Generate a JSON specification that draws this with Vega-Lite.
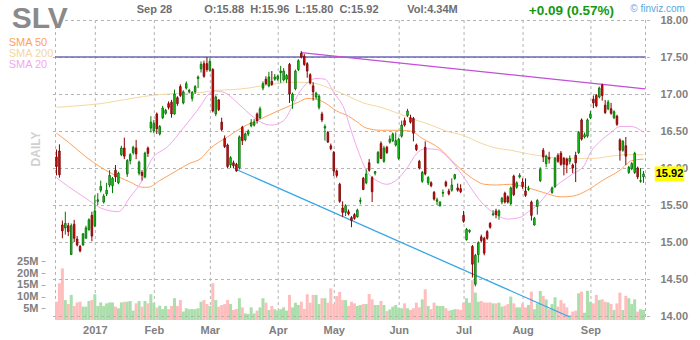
{
"$schema": "https://vega.github.io/schema/vega-lite/v6.json",
"width": 600, "height": 300,
"autosize": {"type": "none"},
"padding": {"left": 50, "top": 20, "right": 50, "bottom": 20},
"background": "white",
"config": {"view": {"stroke": null}, "font": "Liberation Sans",
"axis": {"labelFontSize": 11, "labelFontWeight": "bold", "labelColor": "#808080", "domain": false}},
"datasets": {
"cd": [
{"i":0,"o":16.15,"h":16.25,"l":15.9,"c":16.02,"v":7.8},
{"i":1,"o":16.23,"h":16.32,"l":15.87,"c":15.91,"v":15.7},
{"i":2,"o":15.23,"h":15.29,"l":15.05,"c":15.15,"v":22},
{"i":3,"o":15.19,"h":15.41,"l":15.1,"c":15.25,"v":8.5},
{"i":4,"o":15.22,"h":15.26,"l":15.08,"c":15.14,"v":6.8},
{"i":5,"o":14.83,"h":15.25,"l":14.83,"c":15.22,"v":10.7},
{"i":6,"o":15.24,"h":15.3,"l":15.0,"c":15.05,"v":6.0},
{"i":7,"o":15.04,"h":15.08,"l":14.94,"c":14.96,"v":7.5},
{"i":8,"o":14.94,"h":14.96,"l":14.86,"c":14.88,"v":7.8},
{"i":9,"o":14.96,"h":15.12,"l":14.95,"c":15.11,"v":5.7},
{"i":10,"o":15.05,"h":15.22,"l":15.05,"c":15.19,"v":5.7},
{"i":11,"o":15.17,"h":15.32,"l":15.15,"c":15.3,"v":8.1},
{"i":12,"o":15.36,"h":15.41,"l":15.01,"c":15.08,"v":8.5},
{"i":13,"o":15.22,"h":15.63,"l":15.2,"c":15.42,"v":11},
{"i":14,"o":15.55,"h":15.66,"l":15.5,"c":15.57,"v":6.0},
{"i":15,"o":15.7,"h":15.83,"l":15.67,"c":15.75,"v":7.5},
{"i":16,"o":15.54,"h":15.65,"l":15.52,"c":15.62,"v":6.0},
{"i":17,"o":15.65,"h":15.8,"l":15.62,"c":15.7,"v":7.1},
{"i":18,"o":15.77,"h":15.97,"l":15.74,"c":15.9,"v":7.5},
{"i":19,"o":15.76,"h":15.88,"l":15.66,"c":15.86,"v":7.5},
{"i":20,"o":15.97,"h":16.04,"l":15.81,"c":15.88,"v":5.7},
{"i":21,"o":15.8,"h":15.95,"l":15.78,"c":15.93,"v":5.0},
{"i":22,"o":16.18,"h":16.3,"l":16.16,"c":16.27,"v":7.5},
{"i":23,"o":16.27,"h":16.41,"l":16.12,"c":16.16,"v":7.8},
{"i":24,"o":15.92,"h":16.12,"l":15.88,"c":16.1,"v":7.8},
{"i":25,"o":16.1,"h":16.2,"l":16.05,"c":16.18,"v":8.1},
{"i":26,"o":16.21,"h":16.3,"l":16.18,"c":16.28,"v":4.0},
{"i":27,"o":16.27,"h":16.38,"l":16.12,"c":16.19,"v":7.1},
{"i":28,"o":15.93,"h":16.1,"l":15.9,"c":16.08,"v":8.1},
{"i":29,"o":15.94,"h":15.97,"l":15.83,"c":15.9,"v":5.7},
{"i":30,"o":15.88,"h":16.22,"l":15.86,"c":16.2,"v":8.1},
{"i":31,"o":16.27,"h":16.29,"l":16.15,"c":16.2,"v":7.1},
{"i":32,"o":16.54,"h":16.7,"l":16.48,"c":16.62,"v":11},
{"i":33,"o":16.5,"h":16.65,"l":16.47,"c":16.6,"v":7.3},
{"i":34,"o":16.73,"h":16.75,"l":16.46,"c":16.53,"v":5.3},
{"i":35,"o":16.46,"h":16.58,"l":16.44,"c":16.56,"v":6.1},
{"i":36,"o":16.68,"h":16.84,"l":16.66,"c":16.81,"v":4.6},
{"i":37,"o":16.74,"h":16.8,"l":16.72,"c":16.78,"v":6.0},
{"i":38,"o":16.87,"h":16.9,"l":16.79,"c":16.82,"v":4.6},
{"i":39,"o":16.89,"h":16.92,"l":16.68,"c":16.73,"v":6.0},
{"i":40,"o":16.73,"h":17.06,"l":16.72,"c":17.0,"v":9.3},
{"i":41,"o":16.95,"h":16.97,"l":16.84,"c":16.87,"v":6.0},
{"i":42,"o":17.1,"h":17.13,"l":16.96,"c":16.98,"v":8.5},
{"i":43,"o":16.88,"h":17.05,"l":16.86,"c":17.03,"v":3.6},
{"i":44,"o":17.08,"h":17.17,"l":17.06,"c":17.14,"v":5.0},
{"i":45,"o":17.03,"h":17.07,"l":17.01,"c":17.05,"v":4.6},
{"i":46,"o":16.94,"h":17.04,"l":16.9,"c":17.02,"v":4.7},
{"i":47,"o":17.03,"h":17.12,"l":17.0,"c":17.1,"v":4.6},
{"i":48,"o":17.21,"h":17.25,"l":17.08,"c":17.23,"v":5.0},
{"i":49,"o":17.34,"h":17.44,"l":17.29,"c":17.4,"v":7.8},
{"i":50,"o":17.41,"h":17.45,"l":17.22,"c":17.24,"v":8.5},
{"i":51,"o":17.41,"h":17.5,"l":17.3,"c":17.33,"v":6.8},
{"i":52,"o":17.32,"h":17.48,"l":17.3,"c":17.44,"v":6.0},
{"i":53,"o":17.33,"h":17.35,"l":16.75,"c":16.77,"v":15.7},
{"i":54,"o":16.73,"h":16.98,"l":16.7,"c":16.96,"v":8.5},
{"i":55,"o":16.92,"h":16.93,"l":16.77,"c":16.79,"v":5.7},
{"i":56,"o":16.62,"h":16.68,"l":16.5,"c":16.52,"v":6.4},
{"i":57,"o":16.4,"h":16.44,"l":16.27,"c":16.29,"v":6.8},
{"i":58,"o":16.31,"h":16.33,"l":16.0,"c":16.02,"v":8.5},
{"i":59,"o":16.04,"h":16.16,"l":16.0,"c":16.14,"v":6.8},
{"i":60,"o":16.07,"h":16.1,"l":16.0,"c":16.03,"v":4.3},
{"i":61,"o":16.05,"h":16.07,"l":15.95,"c":15.96,"v":4.7},
{"i":62,"o":16.0,"h":16.44,"l":15.98,"c":16.42,"v":9.3},
{"i":63,"o":16.55,"h":16.57,"l":16.31,"c":16.37,"v":5.4},
{"i":64,"o":16.38,"h":16.48,"l":16.36,"c":16.46,"v":2.8},
{"i":65,"o":16.46,"h":16.52,"l":16.43,"c":16.5,"v":2.6},
{"i":66,"o":16.57,"h":16.66,"l":16.55,"c":16.61,"v":5.4},
{"i":67,"o":16.58,"h":16.66,"l":16.56,"c":16.62,"v":2.8},
{"i":68,"o":16.73,"h":16.75,"l":16.6,"c":16.64,"v":4.0},
{"i":69,"o":16.68,"h":16.83,"l":16.66,"c":16.8,"v":5.4},
{"i":70,"o":17.08,"h":17.17,"l":17.05,"c":17.14,"v":9.3},
{"i":71,"o":17.2,"h":17.24,"l":17.12,"c":17.14,"v":7.4},
{"i":72,"o":17.11,"h":17.3,"l":17.09,"c":17.23,"v":4.3},
{"i":73,"o":17.17,"h":17.31,"l":17.11,"c":17.13,"v":6.0},
{"i":74,"o":17.2,"h":17.27,"l":17.18,"c":17.23,"v":4.6},
{"i":75,"o":17.2,"h":17.26,"l":17.18,"c":17.24,"v":4.0},
{"i":76,"o":17.29,"h":17.38,"l":17.15,"c":17.31,"v":4.6},
{"i":77,"o":17.19,"h":17.35,"l":17.17,"c":17.31,"v":5.4},
{"i":78,"o":17.2,"h":17.27,"l":17.15,"c":17.25,"v":4.0},
{"i":79,"o":17.4,"h":17.42,"l":16.88,"c":17.0,"v":10.7},
{"i":80,"o":16.91,"h":17.02,"l":16.8,"c":17.0,"v":5.4},
{"i":81,"o":17.07,"h":17.33,"l":17.05,"c":17.31,"v":7.4},
{"i":82,"o":17.33,"h":17.47,"l":17.31,"c":17.45,"v":6.4},
{"i":83,"o":17.55,"h":17.58,"l":17.48,"c":17.5,"v":7.8},
{"i":84,"o":17.51,"h":17.54,"l":17.38,"c":17.4,"v":4.7},
{"i":85,"o":17.41,"h":17.43,"l":17.22,"c":17.31,"v":11},
{"i":86,"o":17.26,"h":17.28,"l":17.13,"c":17.15,"v":7.4},
{"i":87,"o":17.11,"h":17.16,"l":16.91,"c":17.03,"v":10.7},
{"i":88,"o":16.96,"h":17.03,"l":16.93,"c":17.01,"v":10.7},
{"i":89,"o":16.82,"h":16.99,"l":16.79,"c":16.97,"v":6.8},
{"i":90,"o":16.73,"h":16.76,"l":16.62,"c":16.65,"v":9.3},
{"i":91,"o":16.54,"h":16.59,"l":16.37,"c":16.56,"v":9.3},
{"i":92,"o":16.48,"h":16.5,"l":16.34,"c":16.35,"v":7.4},
{"i":93,"o":16.3,"h":16.33,"l":16.24,"c":16.26,"v":13.5},
{"i":94,"o":16.21,"h":16.23,"l":15.89,"c":15.96,"v":6.8},
{"i":95,"o":15.96,"h":15.98,"l":15.87,"c":15.9,"v":10.2},
{"i":96,"o":15.78,"h":15.8,"l":15.53,"c":15.55,"v":12},
{"i":97,"o":15.46,"h":15.55,"l":15.34,"c":15.4,"v":8.5},
{"i":98,"o":15.4,"h":15.51,"l":15.35,"c":15.49,"v":8.5},
{"i":99,"o":15.41,"h":15.44,"l":15.36,"c":15.38,"v":6.0},
{"i":100,"o":15.33,"h":15.35,"l":15.2,"c":15.29,"v":7.8},
{"i":101,"o":15.37,"h":15.39,"l":15.3,"c":15.32,"v":7.1},
{"i":102,"o":15.34,"h":15.45,"l":15.33,"c":15.43,"v":6.0},
{"i":103,"o":15.55,"h":15.6,"l":15.51,"c":15.56,"v":6.4},
{"i":104,"o":15.86,"h":15.88,"l":15.7,"c":15.71,"v":6.8},
{"i":105,"o":15.8,"h":15.98,"l":15.78,"c":15.92,"v":6.8},
{"i":106,"o":16.07,"h":16.12,"l":15.95,"c":15.97,"v":11.1},
{"i":107,"o":15.87,"h":15.89,"l":15.54,"c":15.68,"v":8.8},
{"i":108,"o":15.93,"h":15.96,"l":15.9,"c":15.95,"v":6.4},
{"i":109,"o":16.07,"h":16.23,"l":16.06,"c":16.21,"v":6.4},
{"i":110,"o":16.33,"h":16.36,"l":16.12,"c":16.13,"v":8.1},
{"i":111,"o":16.09,"h":16.3,"l":16.07,"c":16.27,"v":6.4},
{"i":112,"o":16.28,"h":16.3,"l":16.19,"c":16.21,"v":3.8},
{"i":113,"o":16.35,"h":16.44,"l":16.33,"c":16.39,"v":4.5},
{"i":114,"o":16.37,"h":16.48,"l":16.35,"c":16.46,"v":5.7},
{"i":115,"o":16.31,"h":16.48,"l":16.29,"c":16.37,"v":6.4},
{"i":116,"o":16.13,"h":16.41,"l":16.11,"c":16.39,"v":5.3},
{"i":117,"o":16.43,"h":16.64,"l":16.41,"c":16.58,"v":5.0},
{"i":118,"o":16.64,"h":16.68,"l":16.56,"c":16.58,"v":7.1},
{"i":119,"o":16.71,"h":16.8,"l":16.69,"c":16.77,"v":5.0},
{"i":120,"o":16.68,"h":16.72,"l":16.6,"c":16.62,"v":4.3},
{"i":121,"o":16.67,"h":16.69,"l":16.36,"c":16.47,"v":5.0},
{"i":122,"o":16.31,"h":16.33,"l":16.23,"c":16.25,"v":7.4},
{"i":123,"o":16.09,"h":16.11,"l":15.98,"c":16.0,"v":5.4},
{"i":124,"o":15.82,"h":15.96,"l":15.8,"c":15.94,"v":8.8},
{"i":125,"o":16.28,"h":16.36,"l":15.9,"c":15.92,"v":13.1},
{"i":126,"o":15.8,"h":15.89,"l":15.77,"c":15.87,"v":6.0},
{"i":127,"o":15.8,"h":15.82,"l":15.74,"c":15.76,"v":4.6},
{"i":128,"o":15.67,"h":15.69,"l":15.56,"c":15.58,"v":7.4},
{"i":129,"o":15.55,"h":15.6,"l":15.5,"c":15.57,"v":6.1},
{"i":130,"o":15.49,"h":15.55,"l":15.48,"c":15.54,"v":6.0},
{"i":131,"o":15.66,"h":15.71,"l":15.61,"c":15.67,"v":6.0},
{"i":132,"o":15.81,"h":15.83,"l":15.74,"c":15.76,"v":5.0},
{"i":133,"o":15.69,"h":15.72,"l":15.63,"c":15.65,"v":4.0},
{"i":134,"o":15.7,"h":15.86,"l":15.68,"c":15.77,"v":4.3},
{"i":135,"o":15.86,"h":15.92,"l":15.84,"c":15.91,"v":4.6},
{"i":136,"o":15.73,"h":15.79,"l":15.68,"c":15.7,"v":4.6},
{"i":137,"o":15.72,"h":15.78,"l":15.66,"c":15.68,"v":4.3},
{"i":138,"o":15.36,"h":15.42,"l":15.26,"c":15.28,"v":7.4},
{"i":139,"o":15.03,"h":15.19,"l":15.02,"c":15.17,"v":9.3},
{"i":140,"o":15.14,"h":15.17,"l":15.12,"c":15.16,"v":7.4},
{"i":141,"o":14.94,"h":14.96,"l":14.52,"c":14.7,"v":17},
{"i":142,"o":14.43,"h":14.84,"l":14.4,"c":14.82,"v":11.7},
{"i":143,"o":14.83,"h":15.01,"l":14.72,"c":14.99,"v":7.8},
{"i":144,"o":15.07,"h":15.1,"l":15.0,"c":15.02,"v":8.1},
{"i":145,"o":15.05,"h":15.07,"l":14.82,"c":14.85,"v":7.5},
{"i":146,"o":15.14,"h":15.16,"l":15.03,"c":15.05,"v":7.4},
{"i":147,"o":15.25,"h":15.27,"l":15.18,"c":15.2,"v":7.5},
{"i":148,"o":15.37,"h":15.43,"l":15.35,"c":15.38,"v":7.1},
{"i":149,"o":15.42,"h":15.45,"l":15.32,"c":15.37,"v":7.1},
{"i":150,"o":15.36,"h":15.44,"l":15.3,"c":15.42,"v":7.4},
{"i":151,"o":15.54,"h":15.61,"l":15.51,"c":15.59,"v":5.7},
{"i":152,"o":15.66,"h":15.68,"l":15.52,"c":15.54,"v":6.1},
{"i":153,"o":15.61,"h":15.63,"l":15.52,"c":15.54,"v":6.8},
{"i":154,"o":15.52,"h":15.75,"l":15.5,"c":15.73,"v":10},
{"i":155,"o":15.89,"h":15.91,"l":15.62,"c":15.64,"v":7.1},
{"i":156,"o":15.74,"h":15.82,"l":15.72,"c":15.8,"v":5.4},
{"i":157,"o":15.88,"h":15.93,"l":15.86,"c":15.9,"v":5.4},
{"i":158,"o":15.81,"h":15.86,"l":15.72,"c":15.75,"v":7.1},
{"i":159,"o":15.69,"h":15.86,"l":15.61,"c":15.63,"v":5.4},
{"i":160,"o":15.71,"h":15.76,"l":15.69,"c":15.72,"v":6.4},
{"i":161,"o":15.54,"h":15.56,"l":15.29,"c":15.36,"v":12.1},
{"i":162,"o":15.23,"h":15.34,"l":15.22,"c":15.32,"v":4.6},
{"i":163,"o":15.48,"h":15.58,"l":15.37,"c":15.56,"v":7.1},
{"i":164,"o":15.83,"h":16.01,"l":15.81,"c":15.98,"v":12.4},
{"i":165,"o":16.24,"h":16.27,"l":16.08,"c":16.15,"v":10.3},
{"i":166,"o":16.06,"h":16.18,"l":16.01,"c":16.16,"v":8.8},
{"i":167,"o":16.14,"h":16.22,"l":16.06,"c":16.12,"v":4.6},
{"i":168,"o":15.67,"h":15.75,"l":15.65,"c":15.73,"v":6.8},
{"i":169,"o":15.75,"h":16.15,"l":15.73,"c":16.13,"v":9.7},
{"i":170,"o":16.17,"h":16.2,"l":16.07,"c":16.09,"v":5.7},
{"i":171,"o":16.2,"h":16.23,"l":16.03,"c":16.05,"v":8.5},
{"i":172,"o":16.13,"h":16.15,"l":15.9,"c":16.05,"v":7.1},
{"i":173,"o":16.12,"h":16.14,"l":15.93,"c":16.04,"v":5.4},
{"i":174,"o":16.09,"h":16.17,"l":16.05,"c":16.13,"v":2.1},
{"i":175,"o":16.04,"h":16.06,"l":15.93,"c":16.0,"v":3.6},
{"i":176,"o":16.17,"h":16.22,"l":15.81,"c":16.07,"v":4.0},
{"i":177,"o":16.21,"h":16.5,"l":16.19,"c":16.48,"v":11.4},
{"i":178,"o":16.65,"h":16.67,"l":16.37,"c":16.39,"v":12.1},
{"i":179,"o":16.42,"h":16.48,"l":16.4,"c":16.45,"v":3.1},
{"i":180,"o":16.43,"h":16.67,"l":16.41,"c":16.65,"v":12.5},
{"i":181,"o":16.68,"h":16.77,"l":16.66,"c":16.73,"v":7.8},
{"i":182,"o":16.93,"h":16.98,"l":16.81,"c":16.88,"v":7.1},
{"i":183,"o":16.98,"h":17.0,"l":16.82,"c":16.84,"v":10.7},
{"i":184,"o":16.96,"h":17.1,"l":16.94,"c":17.08,"v":8.5},
{"i":185,"o":17.12,"h":17.14,"l":16.91,"c":16.98,"v":8.8},
{"i":186,"o":16.85,"h":16.92,"l":16.73,"c":16.75,"v":7.8},
{"i":187,"o":16.8,"h":16.92,"l":16.78,"c":16.89,"v":7.5},
{"i":188,"o":16.8,"h":16.88,"l":16.72,"c":16.74,"v":6.8},
{"i":189,"o":16.68,"h":16.78,"l":16.66,"c":16.76,"v":4.3},
{"i":190,"o":16.7,"h":16.72,"l":16.57,"c":16.59,"v":7.1},
{"i":191,"o":16.38,"h":16.4,"l":16.1,"c":16.24,"v":11.7},
{"i":192,"o":16.24,"h":16.38,"l":16.22,"c":16.36,"v":4.3},
{"i":193,"o":16.3,"h":16.42,"l":16.04,"c":16.16,"v":10.3},
{"i":194,"o":15.94,"h":16.03,"l":15.92,"c":16.01,"v":9.3},
{"i":195,"o":15.99,"h":16.08,"l":15.97,"c":16.06,"v":6.8},
{"i":196,"o":15.94,"h":16.22,"l":15.92,"c":16.2,"v":8.8},
{"i":197,"o":16.0,"h":16.02,"l":15.85,"c":15.88,"v":3.6},
{"i":198,"o":15.82,"h":16.0,"l":15.8,"c":15.83,"v":4.6},
{"i":199,"o":15.88,"h":15.96,"l":15.8,"c":15.92,"v":4.34}
],
"sma": [
{"s":"50","i":0,"v":16.47},{"s":"50","i":4,"v":16.35},{"s":"50","i":10,"v":16.15},{"s":"50","i":15,"v":16.01},{"s":"50","i":21,"v":15.88},{"s":"50","i":25,"v":15.81},{"s":"50","i":29,"v":15.74},{"s":"50","i":31,"v":15.74},{"s":"50","i":35,"v":15.83},{"s":"50","i":41,"v":15.97},{"s":"50","i":45,"v":16.06},{"s":"50","i":49,"v":16.13},{"s":"50","i":52,"v":16.26},{"s":"50","i":58,"v":16.42},{"s":"50","i":63,"v":16.55},{"s":"50","i":69,"v":16.66},{"s":"50","i":75,"v":16.77},{"s":"50","i":82,"v":16.89},{"s":"50","i":85,"v":16.94},{"s":"50","i":88,"v":16.93},{"s":"50","i":91,"v":16.88},{"s":"50","i":95,"v":16.77},{"s":"50","i":99,"v":16.7},{"s":"50","i":102,"v":16.62},{"s":"50","i":105,"v":16.54},{"s":"50","i":110,"v":16.51},{"s":"50","i":115,"v":16.51},{"s":"50","i":120,"v":16.5},{"s":"50","i":124,"v":16.4},{"s":"50","i":130,"v":16.26},{"s":"50","i":135,"v":16.06},{"s":"50","i":141,"v":15.86},{"s":"50","i":145,"v":15.78},{"s":"50","i":149,"v":15.77},{"s":"50","i":154,"v":15.78},{"s":"50","i":160,"v":15.73},{"s":"50","i":165,"v":15.67},{"s":"50","i":171,"v":15.61},{"s":"50","i":175,"v":15.62},{"s":"50","i":180,"v":15.7},{"s":"50","i":185,"v":15.83},{"s":"50","i":191,"v":15.97},{"s":"50","i":195,"v":16.1},{"s":"50","i":199,"v":16.12},
{"s":"200","i":0,"v":16.82},{"s":"200","i":10,"v":16.85},{"s":"200","i":15,"v":16.87},{"s":"200","i":21,"v":16.91},{"s":"200","i":27,"v":16.95},{"s":"200","i":32,"v":16.98},{"s":"200","i":38,"v":17.0},{"s":"200","i":43,"v":17.01},{"s":"200","i":49,"v":17.02},{"s":"200","i":54,"v":17.05},{"s":"200","i":60,"v":17.06},{"s":"200","i":65,"v":17.08},{"s":"200","i":71,"v":17.12},{"s":"200","i":77,"v":17.15},{"s":"200","i":82,"v":17.16},{"s":"200","i":88,"v":17.14},{"s":"200","i":93,"v":17.07},{"s":"200","i":99,"v":16.97},{"s":"200","i":104,"v":16.88},{"s":"200","i":110,"v":16.82},{"s":"200","i":115,"v":16.75},{"s":"200","i":121,"v":16.66},{"s":"200","i":127,"v":16.58},{"s":"200","i":132,"v":16.5},{"s":"200","i":138,"v":16.44},{"s":"200","i":143,"v":16.35},{"s":"200","i":149,"v":16.27},{"s":"200","i":154,"v":16.24},{"s":"200","i":160,"v":16.19},{"s":"200","i":165,"v":16.16},{"s":"200","i":171,"v":16.13},{"s":"200","i":177,"v":16.13},{"s":"200","i":182,"v":16.13},{"s":"200","i":188,"v":16.16},{"s":"200","i":193,"v":16.18},{"s":"200","i":199,"v":16.18},
{"s":"20","i":0,"v":15.87},{"s":"20","i":4,"v":15.75},{"s":"20","i":10,"v":15.59},{"s":"20","i":15,"v":15.46},{"s":"20","i":21,"v":15.41},{"s":"20","i":25,"v":15.61},{"s":"20","i":29,"v":15.83},{"s":"20","i":32,"v":16.1},{"s":"20","i":38,"v":16.3},{"s":"20","i":43,"v":16.54},{"s":"20","i":49,"v":16.85},{"s":"20","i":51,"v":16.97},{"s":"20","i":54,"v":17.04},{"s":"20","i":57,"v":17.02},{"s":"20","i":60,"v":16.93},{"s":"20","i":63,"v":16.82},{"s":"20","i":67,"v":16.68},{"s":"20","i":71,"v":16.59},{"s":"20","i":73,"v":16.58},{"s":"20","i":77,"v":16.64},{"s":"20","i":80,"v":16.84},{"s":"20","i":82,"v":17.0},{"s":"20","i":85,"v":17.15},{"s":"20","i":88,"v":17.21},{"s":"20","i":91,"v":17.2},{"s":"20","i":94,"v":17.02},{"s":"20","i":98,"v":16.75},{"s":"20","i":99,"v":16.62},{"s":"20","i":102,"v":16.26},{"s":"20","i":105,"v":15.97},{"s":"20","i":109,"v":15.82},{"s":"20","i":112,"v":15.78},{"s":"20","i":115,"v":15.83},{"s":"20","i":119,"v":16.01},{"s":"20","i":122,"v":16.19},{"s":"20","i":125,"v":16.26},{"s":"20","i":129,"v":16.25},{"s":"20","i":132,"v":16.17},{"s":"20","i":135,"v":16.04},{"s":"20","i":138,"v":15.88},{"s":"20","i":141,"v":15.7},{"s":"20","i":144,"v":15.54},{"s":"20","i":148,"v":15.4},{"s":"20","i":153,"v":15.31},{"s":"20","i":157,"v":15.33},{"s":"20","i":160,"v":15.41},{"s":"20","i":163,"v":15.5},{"s":"20","i":167,"v":15.68},{"s":"20","i":171,"v":15.81},{"s":"20","i":175,"v":15.92},{"s":"20","i":179,"v":16.04},{"s":"20","i":181,"v":16.21},{"s":"20","i":184,"v":16.35},{"s":"20","i":188,"v":16.48},{"s":"20","i":191,"v":16.56},{"s":"20","i":195,"v":16.56},{"s":"20","i":199,"v":16.48}
],
"tl": [
{"t":"h","i1":-0.5,"p1":17.5,"i2":199.5,"p2":17.5},
{"t":"m","i1":83,"p1":17.56,"i2":199.5,"p2":17.07},
{"t":"b","i1":61,"p1":15.98,"i2":173.8,"p2":13.99}
],
"gx": [{"d":-0.5},{"d":13},{"d":33},{"d":52},{"d":75},{"d":94},{"d":116},{"d":138},{"d":158},{"d":181},{"d":199.5}],
"gy": [{"p":14},{"p":14.5},{"p":15},{"p":15.5},{"p":16},{"p":16.5},{"p":17},{"p":17.5},{"p":18}]
},
"layer": [
{
"data": {"name": "gx"},
"mark": {"type": "rule", "color": "#b4b4b4", "strokeDash": [3, 3], "strokeWidth": 1, "xOffset": 0.5},
"encoding": {
"x": {"field": "d", "type": "quantitative", "scale": {"domain": [-0.5, 199.5], "nice": false, "zero": false},
"axis": {"values": [-0.5, 13, 33, 52, 75, 94, 116, 138, 158, 181, 199.5], "labelExpr": "datum.value==13?'2017':datum.value==33?'Feb':datum.value==52?'Mar':datum.value==75?'Apr':datum.value==94?'May':datum.value==116?'Jun':datum.value==138?'Jul':datum.value==158?'Aug':datum.value==181?'Sep':''", "grid": false, "ticks": false, "labelPadding": 4, "title": null, "labelFlush": false, "labelOverlap": false}}
}
},
{
"data": {"name": "cd"},
"mark": {"type": "bar", "width": 3},
"encoding": {
"x": {"field": "i", "type": "quantitative",
"axis": {"values": [-0.5, 13, 33, 52, 75, 94, 116, 138, 158, 181, 199.5], "labelExpr": "datum.value==13?'2017':datum.value==33?'Feb':datum.value==52?'Mar':datum.value==75?'Apr':datum.value==94?'May':datum.value==116?'Jun':datum.value==138?'Jul':datum.value==158?'Aug':datum.value==181?'Sep':''", "grid": false, "ticks": false, "labelPadding": 4, "title": null, "labelFlush": false, "labelOverlap": false}},
"y": {"field": "v", "type": "quantitative", "scale": {"domain": [0, 128], "nice": false},
"axis": {"orient": "left", "values": [5, 10, 15, 20, 25], "labelExpr": "datum.value+'M'", "grid": false, "ticks": true, "tickSize": 4, "tickColor": "#aaaaaa", "offset": 5, "labelPadding": 3, "title": null}},
"color": {"condition": {"test": "datum.c >= datum.o", "value": "#aadeaa"}, "value": "#ffbdbd"}
}
},
{
"layer": [
{
"data": {"name": "gy"},
"mark": {"type": "rule", "color": "#b4b4b4", "strokeDash": [3, 3], "strokeWidth": 1, "yOffset": 0.5},
"encoding": {
"y": {"field": "p", "type": "quantitative", "scale": {"domain": [13.94595, 18], "nice": false, "zero": false}, "axis": {"orient": "right", "values": [14, 14.5, 15, 15.5, 16, 16.5, 17, 17.5, 18], "format": ".2f", "grid": false, "ticks": false, "labelPadding": 10, "title": null, "labelOverlap": false, "zindex": 0}}
}
},
{
"data": {"name": "sma"},
"mark": {"type": "line", "strokeWidth": 1, "interpolate": "monotone"},
"encoding": {
"x": {"field": "i", "type": "quantitative", "axis": {"values": [-0.5, 13, 33, 52, 75, 94, 116, 138, 158, 181, 199.5], "labelExpr": "datum.value==13?'2017':datum.value==33?'Feb':datum.value==52?'Mar':datum.value==75?'Apr':datum.value==94?'May':datum.value==116?'Jun':datum.value==138?'Jul':datum.value==158?'Aug':datum.value==181?'Sep':''", "grid": false, "ticks": false, "labelPadding": 4, "title": null, "labelFlush": false, "labelOverlap": false}},
"y": {"field": "v", "type": "quantitative", "axis": {"orient": "right", "values": [14, 14.5, 15, 15.5, 16, 16.5, 17, 17.5, 18], "format": ".2f", "grid": false, "ticks": false, "labelPadding": 10, "title": null, "labelOverlap": false, "zindex": 0}},
"color": {"field": "s", "type": "nominal", "scale": {"domain": ["50", "200", "20", "h", "m", "b"], "range": ["#ffa25a", "#f3d8a2", "#f2a8ec", "#6a6ab8", "#c24fd6", "#3aa6e6"]}, "legend": null}
}
},
{
"data": {"name": "tl"},
"mark": {"type": "rule", "strokeWidth": 1.3},
"encoding": {
"x": {"field": "i1", "type": "quantitative", "axis": {"values": [-0.5, 13, 33, 52, 75, 94, 116, 138, 158, 181, 199.5], "labelExpr": "datum.value==13?'2017':datum.value==33?'Feb':datum.value==52?'Mar':datum.value==75?'Apr':datum.value==94?'May':datum.value==116?'Jun':datum.value==138?'Jul':datum.value==158?'Aug':datum.value==181?'Sep':''", "grid": false, "ticks": false, "labelPadding": 4, "title": null, "labelFlush": false, "labelOverlap": false}},
"x2": {"field": "i2"},
"y": {"field": "p1", "type": "quantitative", "axis": {"orient": "right", "values": [14, 14.5, 15, 15.5, 16, 16.5, 17, 17.5, 18], "format": ".2f", "grid": false, "ticks": false, "labelPadding": 10, "title": null, "labelOverlap": false, "zindex": 0}},
"y2": {"field": "p2"},
"color": {"field": "t", "type": "nominal", "scale": {"domain": ["50", "200", "20", "h", "m", "b"], "range": ["#ffa25a", "#f3d8a2", "#f2a8ec", "#6a6ab8", "#c24fd6", "#3aa6e6"]}, "legend": null}
}
},
{
"data": {"name": "cd"},
"mark": {"type": "rule", "strokeWidth": 1},
"encoding": {
"x": {"field": "i", "type": "quantitative", "axis": {"values": [-0.5, 13, 33, 52, 75, 94, 116, 138, 158, 181, 199.5], "labelExpr": "datum.value==13?'2017':datum.value==33?'Feb':datum.value==52?'Mar':datum.value==75?'Apr':datum.value==94?'May':datum.value==116?'Jun':datum.value==138?'Jul':datum.value==158?'Aug':datum.value==181?'Sep':''", "grid": false, "ticks": false, "labelPadding": 4, "title": null, "labelFlush": false, "labelOverlap": false}},
"y": {"field": "l", "type": "quantitative", "axis": {"orient": "right", "values": [14, 14.5, 15, 15.5, 16, 16.5, 17, 17.5, 18], "format": ".2f", "grid": false, "ticks": false, "labelPadding": 10, "title": null, "labelOverlap": false, "zindex": 0}},
"y2": {"field": "h"},
"color": {"condition": {"test": "datum.c >= datum.o", "value": "#007a00"}, "value": "#8a0000"}
}
},
{
"data": {"name": "cd"},
"mark": {"type": "bar", "width": 1.6, "strokeWidth": 0.8},
"encoding": {
"x": {"field": "i", "type": "quantitative", "axis": {"values": [-0.5, 13, 33, 52, 75, 94, 116, 138, 158, 181, 199.5], "labelExpr": "datum.value==13?'2017':datum.value==33?'Feb':datum.value==52?'Mar':datum.value==75?'Apr':datum.value==94?'May':datum.value==116?'Jun':datum.value==138?'Jul':datum.value==158?'Aug':datum.value==181?'Sep':''", "grid": false, "ticks": false, "labelPadding": 4, "title": null, "labelFlush": false, "labelOverlap": false}},
"y": {"field": "o", "type": "quantitative", "axis": {"orient": "right", "values": [14, 14.5, 15, 15.5, 16, 16.5, 17, 17.5, 18], "format": ".2f", "grid": false, "ticks": false, "labelPadding": 10, "title": null, "labelOverlap": false, "zindex": 0}},
"y2": {"field": "c"},
"fill": {"condition": {"test": "datum.c >= datum.o", "value": "#1fd41f"}, "value": "#dd1111"},
"stroke": {"condition": {"test": "datum.c >= datum.o", "value": "#006600"}, "value": "#770000"}
}
},
{
"data": {"name": "cd"},
"transform": [{"filter": "datum.i == 199"}],
"mark": {"type": "rule", "strokeWidth": 15, "strokeCap": "butt", "color": "#ffff00"},
"encoding": {
"x": {"datum": 202.8, "type": "quantitative", "axis": {"values": [-0.5, 13, 33, 52, 75, 94, 116, 138, 158, 181, 199.5], "labelExpr": "datum.value==13?'2017':datum.value==33?'Feb':datum.value==52?'Mar':datum.value==75?'Apr':datum.value==94?'May':datum.value==116?'Jun':datum.value==138?'Jul':datum.value==158?'Aug':datum.value==181?'Sep':''", "grid": false, "ticks": false, "labelPadding": 4, "title": null, "labelFlush": false, "labelOverlap": false}},
"x2": {"datum": 212.8},
"y": {"field": "c", "type": "quantitative", "axis": {"orient": "right", "values": [14, 14.5, 15, 15.5, 16, 16.5, 17, 17.5, 18], "format": ".2f", "grid": false, "ticks": false, "labelPadding": 10, "title": null, "labelOverlap": false, "zindex": 0}}
}
},
{
"data": {"name": "cd"},
"transform": [{"filter": "datum.i == 199"}],
"mark": {"type": "text", "align": "center", "baseline": "middle", "fontSize": 11, "fontWeight": "bold", "color": "#000000"},
"encoding": {
"x": {"datum": 207.8, "type": "quantitative", "axis": {"values": [-0.5, 13, 33, 52, 75, 94, 116, 138, 158, 181, 199.5], "labelExpr": "datum.value==13?'2017':datum.value==33?'Feb':datum.value==52?'Mar':datum.value==75?'Apr':datum.value==94?'May':datum.value==116?'Jun':datum.value==138?'Jul':datum.value==158?'Aug':datum.value==181?'Sep':''", "grid": false, "ticks": false, "labelPadding": 4, "title": null, "labelFlush": false, "labelOverlap": false}},
"y": {"field": "c", "type": "quantitative", "axis": {"orient": "right", "values": [14, 14.5, 15, 15.5, 16, 16.5, 17, 17.5, 18], "format": ".2f", "grid": false, "ticks": false, "labelPadding": 10, "title": null, "labelOverlap": false, "zindex": 0}},
"text": {"field": "c", "format": ".2f"}
}
},
{
"data": {"values": [{}]},
"mark": {"type": "text", "align": "left", "baseline": "alphabetic", "fontSize": 30, "fontWeight": "bold", "color": "#8a8a8a"},
"encoding": {
"x": {"datum": -15.2, "type": "quantitative", "axis": {"values": [-0.5, 13, 33, 52, 75, 94, 116, 138, 158, 181, 199.5], "labelExpr": "datum.value==13?'2017':datum.value==33?'Feb':datum.value==52?'Mar':datum.value==75?'Apr':datum.value==94?'May':datum.value==116?'Jun':datum.value==138?'Jul':datum.value==158?'Aug':datum.value==181?'Sep':''", "grid": false, "ticks": false, "labelPadding": 4, "title": null, "labelFlush": false, "labelOverlap": false}},
"y": {"datum": 17.892, "type": "quantitative", "axis": {"orient": "right", "values": [14, 14.5, 15, 15.5, 16, 16.5, 17, 17.5, 18], "format": ".2f", "grid": false, "ticks": false, "labelPadding": 10, "title": null, "labelOverlap": false, "zindex": 0}},
"text": {"value": "SLV"}}
},
{
"data": {"values": [{}]},
"mark": {"type": "text", "align": "left", "baseline": "alphabetic", "fontSize": 11, "color": "#ffa25a"},
"encoding": {
"x": {"datum": -16.2, "type": "quantitative", "axis": {"values": [-0.5, 13, 33, 52, 75, 94, 116, 138, 158, 181, 199.5], "labelExpr": "datum.value==13?'2017':datum.value==33?'Feb':datum.value==52?'Mar':datum.value==75?'Apr':datum.value==94?'May':datum.value==116?'Jun':datum.value==138?'Jul':datum.value==158?'Aug':datum.value==181?'Sep':''", "grid": false, "ticks": false, "labelPadding": 4, "title": null, "labelFlush": false, "labelOverlap": false}},
"y": {"datum": 17.649, "type": "quantitative", "axis": {"orient": "right", "values": [14, 14.5, 15, 15.5, 16, 16.5, 17, 17.5, 18], "format": ".2f", "grid": false, "ticks": false, "labelPadding": 10, "title": null, "labelOverlap": false, "zindex": 0}},
"text": {"value": "SMA 50"}}
},
{
"data": {"values": [{}]},
"mark": {"type": "text", "align": "left", "baseline": "alphabetic", "fontSize": 11, "color": "#f3d8a2"},
"encoding": {
"x": {"datum": -16.2, "type": "quantitative", "axis": {"values": [-0.5, 13, 33, 52, 75, 94, 116, 138, 158, 181, 199.5], "labelExpr": "datum.value==13?'2017':datum.value==33?'Feb':datum.value==52?'Mar':datum.value==75?'Apr':datum.value==94?'May':datum.value==116?'Jun':datum.value==138?'Jul':datum.value==158?'Aug':datum.value==181?'Sep':''", "grid": false, "ticks": false, "labelPadding": 4, "title": null, "labelFlush": false, "labelOverlap": false}},
"y": {"datum": 17.5, "type": "quantitative", "axis": {"orient": "right", "values": [14, 14.5, 15, 15.5, 16, 16.5, 17, 17.5, 18], "format": ".2f", "grid": false, "ticks": false, "labelPadding": 10, "title": null, "labelOverlap": false, "zindex": 0}},
"text": {"value": "SMA 200"}}
},
{
"data": {"values": [{}]},
"mark": {"type": "text", "align": "left", "baseline": "alphabetic", "fontSize": 11, "color": "#f2a8ec"},
"encoding": {
"x": {"datum": -16.2, "type": "quantitative", "axis": {"values": [-0.5, 13, 33, 52, 75, 94, 116, 138, 158, 181, 199.5], "labelExpr": "datum.value==13?'2017':datum.value==33?'Feb':datum.value==52?'Mar':datum.value==75?'Apr':datum.value==94?'May':datum.value==116?'Jun':datum.value==138?'Jul':datum.value==158?'Aug':datum.value==181?'Sep':''", "grid": false, "ticks": false, "labelPadding": 4, "title": null, "labelFlush": false, "labelOverlap": false}},
"y": {"datum": 17.351, "type": "quantitative", "axis": {"orient": "right", "values": [14, 14.5, 15, 15.5, 16, 16.5, 17, 17.5, 18], "format": ".2f", "grid": false, "ticks": false, "labelPadding": 10, "title": null, "labelOverlap": false, "zindex": 0}},
"text": {"value": "SMA 20"}}
},
{
"data": {"values": [{}]},
"mark": {"type": "text", "align": "center", "baseline": "middle", "fontSize": 12, "fontWeight": "bold", "color": "#d0d0d0", "angle": 270},
"encoding": {
"x": {"datum": -6.8, "type": "quantitative", "axis": {"values": [-0.5, 13, 33, 52, 75, 94, 116, 138, 158, 181, 199.5], "labelExpr": "datum.value==13?'2017':datum.value==33?'Feb':datum.value==52?'Mar':datum.value==75?'Apr':datum.value==94?'May':datum.value==116?'Jun':datum.value==138?'Jul':datum.value==158?'Aug':datum.value==181?'Sep':''", "grid": false, "ticks": false, "labelPadding": 4, "title": null, "labelFlush": false, "labelOverlap": false}},
"y": {"datum": 16.257, "type": "quantitative", "axis": {"orient": "right", "values": [14, 14.5, 15, 15.5, 16, 16.5, 17, 17.5, 18], "format": ".2f", "grid": false, "ticks": false, "labelPadding": 10, "title": null, "labelOverlap": false, "zindex": 0}},
"text": {"value": "DAILY"}}
},
{
"data": {"values": [{}]},
"mark": {"type": "text", "align": "left", "baseline": "alphabetic", "fontSize": 11, "fontWeight": "bold", "color": "#6e6e6e"},
"encoding": {
"x": {"datum": 27.2, "type": "quantitative", "axis": {"values": [-0.5, 13, 33, 52, 75, 94, 116, 138, 158, 181, 199.5], "labelExpr": "datum.value==13?'2017':datum.value==33?'Feb':datum.value==52?'Mar':datum.value==75?'Apr':datum.value==94?'May':datum.value==116?'Jun':datum.value==138?'Jul':datum.value==158?'Aug':datum.value==181?'Sep':''", "grid": false, "ticks": false, "labelPadding": 4, "title": null, "labelFlush": false, "labelOverlap": false}},
"y": {"datum": 18.09, "type": "quantitative", "axis": {"orient": "right", "values": [14, 14.5, 15, 15.5, 16, 16.5, 17, 17.5, 18], "format": ".2f", "grid": false, "ticks": false, "labelPadding": 10, "title": null, "labelOverlap": false, "zindex": 0}},
"text": {"value": "Sep 28"}}
},
{
"data": {"values": [{}]},
"mark": {"type": "text", "align": "left", "baseline": "alphabetic", "fontSize": 11, "fontWeight": "bold", "color": "#6e6e6e"},
"encoding": {
"x": {"datum": 50.1, "type": "quantitative", "axis": {"values": [-0.5, 13, 33, 52, 75, 94, 116, 138, 158, 181, 199.5], "labelExpr": "datum.value==13?'2017':datum.value==33?'Feb':datum.value==52?'Mar':datum.value==75?'Apr':datum.value==94?'May':datum.value==116?'Jun':datum.value==138?'Jul':datum.value==158?'Aug':datum.value==181?'Sep':''", "grid": false, "ticks": false, "labelPadding": 4, "title": null, "labelFlush": false, "labelOverlap": false}},
"y": {"datum": 18.09, "type": "quantitative", "axis": {"orient": "right", "values": [14, 14.5, 15, 15.5, 16, 16.5, 17, 17.5, 18], "format": ".2f", "grid": false, "ticks": false, "labelPadding": 10, "title": null, "labelOverlap": false, "zindex": 0}},
"text": {"value": "O:15.88\u00a0\u00a0H:15.96\u00a0\u00a0L:15.80\u00a0\u00a0C:15.92"}}
},
{
"data": {"values": [{}]},
"mark": {"type": "text", "align": "left", "baseline": "alphabetic", "fontSize": 11, "fontWeight": "bold", "color": "#6e6e6e"},
"encoding": {
"x": {"datum": 118.9, "type": "quantitative", "axis": {"values": [-0.5, 13, 33, 52, 75, 94, 116, 138, 158, 181, 199.5], "labelExpr": "datum.value==13?'2017':datum.value==33?'Feb':datum.value==52?'Mar':datum.value==75?'Apr':datum.value==94?'May':datum.value==116?'Jun':datum.value==138?'Jul':datum.value==158?'Aug':datum.value==181?'Sep':''", "grid": false, "ticks": false, "labelPadding": 4, "title": null, "labelFlush": false, "labelOverlap": false}},
"y": {"datum": 18.09, "type": "quantitative", "axis": {"orient": "right", "values": [14, 14.5, 15, 15.5, 16, 16.5, 17, 17.5, 18], "format": ".2f", "grid": false, "ticks": false, "labelPadding": 10, "title": null, "labelOverlap": false, "zindex": 0}},
"text": {"value": "Vol:4.34M"}}
},
{
"data": {"values": [{}]},
"mark": {"type": "text", "align": "left", "baseline": "alphabetic", "fontSize": 13.5, "fontWeight": "bold", "color": "#129912"},
"encoding": {
"x": {"datum": 160.1, "type": "quantitative", "axis": {"values": [-0.5, 13, 33, 52, 75, 94, 116, 138, 158, 181, 199.5], "labelExpr": "datum.value==13?'2017':datum.value==33?'Feb':datum.value==52?'Mar':datum.value==75?'Apr':datum.value==94?'May':datum.value==116?'Jun':datum.value==138?'Jul':datum.value==158?'Aug':datum.value==181?'Sep':''", "grid": false, "ticks": false, "labelPadding": 4, "title": null, "labelFlush": false, "labelOverlap": false}},
"y": {"datum": 18.068, "type": "quantitative", "axis": {"orient": "right", "values": [14, 14.5, 15, 15.5, 16, 16.5, 17, 17.5, 18], "format": ".2f", "grid": false, "ticks": false, "labelPadding": 10, "title": null, "labelOverlap": false, "zindex": 0}},
"text": {"value": "+0.09 (0.57%)"}}
},
{
"data": {"values": [{}]},
"mark": {"type": "text", "align": "left", "baseline": "alphabetic", "fontSize": 10, "color": "#5aa8e0"},
"encoding": {
"x": {"datum": 194.5, "type": "quantitative", "axis": {"values": [-0.5, 13, 33, 52, 75, 94, 116, 138, 158, 181, 199.5], "labelExpr": "datum.value==13?'2017':datum.value==33?'Feb':datum.value==52?'Mar':datum.value==75?'Apr':datum.value==94?'May':datum.value==116?'Jun':datum.value==138?'Jul':datum.value==158?'Aug':datum.value==181?'Sep':''", "grid": false, "ticks": false, "labelPadding": 4, "title": null, "labelFlush": false, "labelOverlap": false}},
"y": {"datum": 18.108, "type": "quantitative", "axis": {"orient": "right", "values": [14, 14.5, 15, 15.5, 16, 16.5, 17, 17.5, 18], "format": ".2f", "grid": false, "ticks": false, "labelPadding": 10, "title": null, "labelOverlap": false, "zindex": 0}},
"text": {"value": "© finviz.com"}}
}
]
}
],
"resolve": {"scale": {"y": "independent"}}
}
